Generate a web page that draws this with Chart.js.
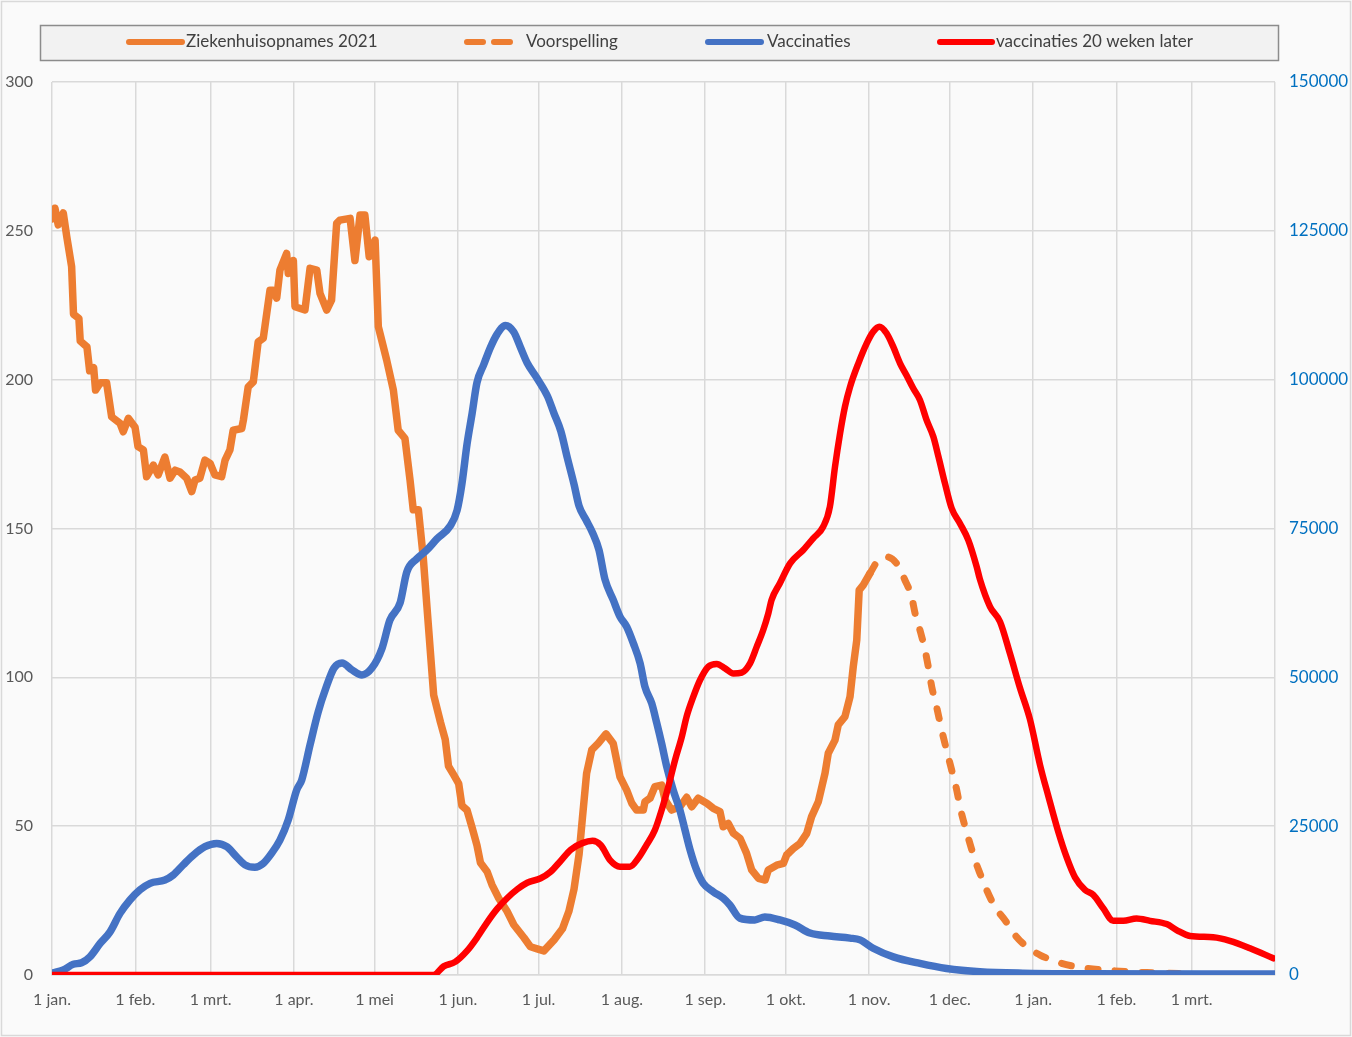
<!DOCTYPE html>
<html><head><meta charset="utf-8">
<script src="https://cdn.jsdelivr.net/npm/chart.js@4/dist/chart.umd.min.js"></script>
<style>html,body{margin:0;padding:0;background:#fafafa;}canvas{display:block;}</style>
</head><body>
<canvas id="c" width="1352" height="1037"></canvas>
<script>
// ---- axis ticks ----
const monthTicks = [0,31,59,90,120,151,181,212,243,273,304,334,365,396,424,455];
const monthLabels = ['1 jan.','1 feb.','1 mrt.','1 apr.','1 mei','1 jun.','1 jul.','1 aug.','1 sep.','1 okt.','1 nov.','1 dec.','1 jan.','1 feb.','1 mrt.',''];
const leftTicks = [0,50,100,150,200,250,300];
const rightTicks = [0,25000,50000,75000,100000,125000,150000];

// ---- series labels ----
const seriesLabels = ['Ziekenhuisopnames 2021','Voorspelling','Vaccinaties','vaccinaties 20 weken later'];

// ---- Ziekenhuisopnames 2021 (days since 1 jan 2021, value) ----
const opnameDagen = [0,1.1,2.3,4.2,5.5,7.3,8,10,10.5,13,14,15.5,16.2,18,20.3,22.2,25.3,26.5,28.4,30.9,32,34,35.2,37.7,39.5,42,43.9,45.8,47.6,50.1,52,53.2,55,56.9,58.8,60.6,63.1,64.4,66.2,67.4,70.6,71.2,73,74.9,76.7,78.6,79.9,81.1,82.3,83.6,84.8,87.3,87.9,89.8,90.4,94.1,96,98.5,99.7,102.2,104,105.9,107.1,110.9,112.7,114.6,116.4,118,120.2,121.4,124.5,127,128.8,131.3,133.2,134.4,136.3,138.1,139.5,142,144.5,146.3,147.5,149.4,151.3,152.5,154.4,156.3,158.1,159.4,161.9,163.7,166.2,169.3,171.8,175.6,178,180.5,183,186.8,189.9,192.3,194.2,196.1,197.3,198.9,200.8,203.2,206.1,208.8,211.3,213.8,215.7,217.5,220,220.6,222.5,224.3,226.8,228.1,230.5,233.6,236.1,238,240.4,243.6,246,248.5,249.7,251.6,253.5,256,258.4,260.3,262.8,265.3,266.5,269.6,272.1,273.3,275.8,278.3,280.8,282.6,285.1,287.6,288.8,291.3,292.5,295,296.9,298.1,299.4,300.3,301.8,304.3];
const opnameWaarden = [254,257.6,252,256,248,238,222,220.6,213,211,203,204,196.5,199,199,187.5,185.4,182.5,187,184,177.5,176.4,167.4,171.3,168,174,166.9,169.6,169,166.9,162.4,166.3,166.9,173,171.9,168,167.4,173,176.4,183,183.6,186.4,197.6,199.3,212.7,213.9,222.3,230,230,227.4,236.8,242.4,235.7,240,224.5,223.4,237.4,236.8,229,223.4,226.7,252.5,253.6,254.2,240,255.3,255.3,241.3,246.9,217.8,206.6,196.5,183,180.3,166.3,156.3,156.3,140.5,123.6,94,85,79.1,70.2,67.3,64.3,56.9,55.4,49.5,43.6,37.7,34.7,30.3,25.8,21.4,16.9,12.5,9.5,8.8,8.1,11.8,15.5,21.4,28.8,40.6,52.4,67.8,75.6,77.8,81,77.8,66.6,62.1,57.7,55.4,55.4,58.2,59.4,63.3,63.8,58.8,55.4,56.5,59.7,56.5,59.4,57.7,56,54.9,49.8,50.9,47.6,45.9,40.9,35.3,32.5,31.9,35.3,36.9,37.5,40.3,42.5,44.2,47.6,53.2,58.2,67.8,74.5,78.9,84,86.8,93.5,103.6,112.5,129.3,131,134.9];

// ---- Voorspelling ----
const voorspellingDagen = [304.3,307.4,310.5,314.2,317.3,319.8,321.1,322.9,324.8,326,327.3,329.1,331,332.8,334.7,336.6,337.8,339.7,341.5,343.4,345.2,347.7,350.8,354.5,358.3,362.6,367.6,375.6,382.4,391.1,407.3,425];
const voorspellingWaarden = [134.9,139.4,140.5,138.3,132.7,127.1,121.5,115.9,109.2,103.6,96.8,90.1,82.3,75.6,68.9,62.1,56.5,49.8,44.2,38.6,34.2,28.6,22.9,18.5,13.4,9.5,6.7,3.9,2.6,1.7,0.8,0.4];

// ---- Vaccinaties (right axis) ----
const vaccDagen = [0,4.2,7.9,11,14.1,17.9,21.6,25.3,29,32.7,36.5,42,45.1,48.8,52.6,56.9,61.3,65,68.7,71.8,75.5,78.6,81.7,84.8,87.9,91,92.9,96,99,101.9,104.9,107.9,111.6,115.3,119,122.8,125.7,129.5,132,135.7,139.5,143.2,148.2,150.7,152.5,154.4,156.3,158.1,160.6,163.1,165.6,168.7,171.8,174.3,176.8,180.5,184.3,186.8,189.3,191.7,194.2,196.1,198.6,201.1,203.5,205.7,208.8,211.3,213.8,216.3,218.8,220.6,223.1,225,226.8,228.7,231.1,233.6,235.5,237.4,239.8,242.3,246,249.7,252.2,255.9,261.5,265.2,270.8,276.4,282,289.4,296.9,300.6,305.5,313,322.9,332.8,345.2,361.2,386.2,455];
const vaccWaarden = [300,850,1800,2050,3050,5300,7250,10350,12600,14300,15400,15950,16800,18500,20150,21550,22100,21550,19850,18500,18100,18750,20450,22650,26050,31050,32750,38650,44150,48200,51550,52400,51250,50400,51550,54900,59600,62500,67700,69900,71400,73250,75450,78050,82500,89150,94350,99500,102500,105400,107650,109100,108000,105400,102800,100200,97250,94300,91350,86900,82450,78750,76500,74300,71400,66500,63000,60200,58500,55700,52350,48400,45650,42300,38900,35000,31050,27700,24350,21000,17650,15400,14000,12900,11750,9550,9250,9750,9250,8400,7050,6550,6200,5900,4500,3050,1950,1100,550,300,200,150];

// ---- vaccinaties 20 weken later (right axis) ----
const lateDagen = [0,141.9,145.7,150,154.4,158.1,161.9,165.6,169.3,173.1,176.8,181.8,185.5,189.3,193,197.3,201.1,204.2,207.6,211.3,215,218.1,221.2,224.3,226.8,229.3,231.8,234.3,236.1,238.6,241.1,244.2,247.3,250.4,253.5,256.6,259.7,262.2,264.6,266.5,267.7,270.8,274.6,279.5,283.2,286.9,289.4,291.3,293.2,295,296.9,300,303.1,305.5,307.8,310.5,313,315.5,317.9,320.4,322.9,325.4,327.9,329.8,332.2,334.7,337.8,340.9,344,345.2,349,352.7,356.4,360.1,363.8,367.6,370.7,374.4,377.5,380.6,384.3,387.4,391.1,394.8,398.6,403.5,408.5,414.7,418.4,423.4,432,438.2,445.7,454.4];
const lateWaarden = [0,0,1450,2200,4050,6250,8850,11100,12900,14400,15500,16250,17350,19200,21050,22150,22550,21800,19300,18200,18200,19600,21850,24350,27700,31650,36100,40000,43400,46750,49550,51800,52250,51500,50650,50800,52350,55150,57950,60750,63000,65800,69150,71400,73350,75300,78650,85350,91000,95450,98800,102750,106100,108050,108900,107800,105500,102750,100750,98550,96600,93200,90400,87050,82600,78400,75850,73050,68600,66500,61850,59350,54000,48250,43000,35250,30000,24000,19750,16400,14300,13450,11200,9100,9100,9500,9100,8550,7550,6550,6350,5750,4500,2800];

const pts = (xs, ys) => xs.map((x, i) => ({x, y: ys[i]}));
const FONT = "Lato, 'Open Sans', 'Liberation Sans', sans-serif";

const bgPlugin = {
  id: 'bg',
  beforeDraw(chart) {
    const ctx = chart.ctx;
    ctx.save();
    ctx.fillStyle = '#fafafa';
    ctx.fillRect(0, 0, chart.width, chart.height);
    ctx.strokeStyle = '#d9d9d9';
    ctx.lineWidth = 1.5;
    ctx.strokeRect(1.5, 1.5, chart.width - 3, chart.height - 3);
    ctx.restore();
  }
};

// legend drawn inside a framed box like the original
const legendLayout = { box: [40, 25, 1238, 35], lineX: [126, 464, 705, 937], lineW: [59, 51, 59, 58], textX: [186, 526, 767, 996], y: 42 };
const boxLegend = {
  id: 'boxLegend',
  afterDraw(chart) {
    const ctx = chart.ctx, L = legendLayout;
    ctx.save();
    ctx.fillStyle = '#f2f2f2';
    ctx.fillRect(L.box[0], L.box[1], L.box[2], L.box[3]);
    ctx.strokeStyle = '#8c8c8c';
    ctx.lineWidth = 1.5;
    ctx.strokeRect(L.box[0] + 0.5, L.box[1] + 0.5, L.box[2], L.box[3]);
    chart.data.datasets.forEach((ds, i) => {
      ctx.beginPath();
      ctx.strokeStyle = ds.borderColor;
      ctx.lineWidth = 6;
      ctx.lineCap = 'round';
      ctx.setLineDash(ds.borderDash && ds.borderDash.length ? [16, 11] : []);
      ctx.moveTo(L.lineX[i] + 3, L.y);
      ctx.lineTo(L.lineX[i] + L.lineW[i] - 3, L.y);
      ctx.stroke();
      ctx.setLineDash([]);
      ctx.fillStyle = '#404040';
      ctx.font = '17px ' + FONT;
      ctx.textBaseline = 'middle';
      ctx.textAlign = 'left';
      ctx.fillText(ds.label, L.textX[i], L.y);
    });
    ctx.restore();
  }
};

new Chart(document.getElementById('c'), {
  type: 'line',
  data: {
    datasets: [
      { label: seriesLabels[0], data: pts(opnameDagen, opnameWaarden), yAxisID: 'y', borderColor: '#ed7d31', borderWidth: 7.5, borderJoinStyle: 'round', borderCapStyle: 'round', tension: 0, order: 3 },
      { label: seriesLabels[1], data: pts(voorspellingDagen, voorspellingWaarden), yAxisID: 'y', borderColor: '#ed7d31', borderWidth: 7, borderDash: [10, 17], borderCapStyle: 'round', cubicInterpolationMode: 'monotone', order: 2 },
      { label: seriesLabels[2], data: pts(vaccDagen, vaccWaarden), yAxisID: 'y2', borderColor: '#4472c4', borderWidth: 7.5, borderJoinStyle: 'round', borderCapStyle: 'round', cubicInterpolationMode: 'monotone', order: 1 },
      { label: seriesLabels[3], data: pts(lateDagen, lateWaarden), yAxisID: 'y2', borderColor: '#ff0000', borderWidth: 6.5, borderJoinStyle: 'round', borderCapStyle: 'round', cubicInterpolationMode: 'monotone', order: 0 }
    ]
  },
  options: {
    responsive: false,
    animation: false,
    layout: { padding: { top: 82, left: 0, right: 0, bottom: 0 } },
    elements: { point: { radius: 0, hoverRadius: 0 } },
    plugins: { legend: { display: false }, tooltip: { enabled: false } },
    scales: {
      x: {
        type: 'linear', min: 0, max: 455,
        afterBuildTicks: s => { s.ticks = monthTicks.map(v => ({ value: v })); },
        afterFit: s => { s.height = 62; },
        ticks: { autoSkip: false, maxRotation: 0, padding: 15, color: '#595959', font: { family: FONT, size: 16 },
                 callback: (v, i) => monthLabels[i] },
        grid: { color: '#d9d9d9', lineWidth: 1.5, drawTicks: false },
        border: { color: '#d9d9d9', width: 1.5 }
      },
      y: {
        position: 'left', min: 0, max: 300,
        afterBuildTicks: s => { s.ticks = leftTicks.map(v => ({ value: v })); },
        afterFit: s => { s.width = 52; },
        ticks: { padding: 19, color: '#595959', font: { family: FONT, size: 16 } },
        grid: { color: '#d9d9d9', lineWidth: 1.5, drawTicks: false },
        border: { display: false }
      },
      y2: {
        position: 'right', min: 0, max: 150000,
        afterBuildTicks: s => { s.ticks = rightTicks.map(v => ({ value: v })); },
        afterFit: s => { s.width = 77; },
        ticks: { padding: 14, color: '#0070c0', font: { family: FONT, size: 17 }, callback: v => String(v) },
        grid: { display: false, drawTicks: false },
        border: { display: false }
      }
    }
  },
  plugins: [bgPlugin, boxLegend]
});
</script>
</body></html>
